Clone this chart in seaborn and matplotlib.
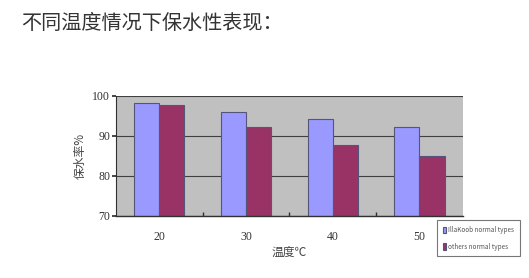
import matplotlib
matplotlib.use("Agg")
import matplotlib.pyplot as plt
import seaborn as sns
import pandas as pd

categories = ["20", "30", "40", "50"]
series_names = ["IllaKoob normal types", "others normal types"]
illakoob_values = [98.2, 96.0, 94.2, 92.1]
others_values = [97.7, 92.1, 87.7, 85.0]
y_ticks = [70, 80, 90, 100]

rows = []
for c, v in zip(categories, illakoob_values):
    rows.append({"temp": c, "series": series_names[0], "value": v})
for c, v in zip(categories, others_values):
    rows.append({"temp": c, "series": series_names[1], "value": v})
df = pd.DataFrame(rows)

sns.set_theme(style="white")
plt.rcParams['font.family'] = ['Noto Sans CJK SC', 'DejaVu Sans']

fig = plt.figure(figsize=(5.29, 2.78), dpi=100)
fig.patch.set_facecolor("white")
ax = fig.add_axes([0.219, 0.224, 0.656, 0.431])
ax.set_facecolor("#C0C0C0")

palette = {series_names[0]: "#9999FF", series_names[1]: "#993366"}
sns.barplot(data=df, x="temp", y="value", hue="series", palette=palette,
            width=0.58, gap=0, ax=ax, edgecolor="#55557a", linewidth=0.8,
            saturation=1, legend=True)

ax.set_ylim(70, 100)
ax.set_yticks(y_ticks)
ax.yaxis.grid(True, color="#404040", linewidth=0.8)
ax.set_axisbelow(True)
for s in ["top", "right"]:
    ax.spines[s].set_visible(False)
ax.spines["left"].set_color("#303030")
ax.spines["bottom"].set_color("#303030")
ax.spines["left"].set_linewidth(0.8)
ax.spines["bottom"].set_linewidth(1.0)

ax.set_yticklabels([str(t) for t in y_ticks], family="Liberation Serif",
                   fontsize=8.5, color="#333333")
ax.set_xticks(range(len(categories)))
ax.set_xticklabels(categories, family="Liberation Serif", fontsize=8.5,
                   color="#333333")
ax.tick_params(axis="x", length=0, pad=11)
ax.tick_params(axis="y", length=3, pad=1, color="#303030", left=True)
ax.set_xticks([0.5, 1.5, 2.5], minor=True)
ax.tick_params(axis="x", which="minor", length=3, direction="in",
               color="#303030", bottom=True)

ax.set_xlabel("温度℃", fontsize=8.5, color="#444444", labelpad=2)
ax.set_ylabel("保水率%", fontsize=8.5, color="#444444", labelpad=4)

leg = ax.legend(loc="upper left", bbox_to_anchor=(0.92, -0.02),
                frameon=True, fontsize=4.6, handlelength=0.5,
                handleheight=1.1, handletextpad=0.3, borderpad=0.9,
                borderaxespad=0.3,
                labelspacing=1.4, fancybox=False, edgecolor="#555555")
leg.get_frame().set_linewidth(0.8)
for t in leg.get_texts():
    t.set_color("#555555")

fig.text(0.04, 0.915, "不同温度情况下保水性表现：", fontsize=14.5,
         color="#333333", ha="left", va="center")

fig.savefig("out.png", dpi=100)
